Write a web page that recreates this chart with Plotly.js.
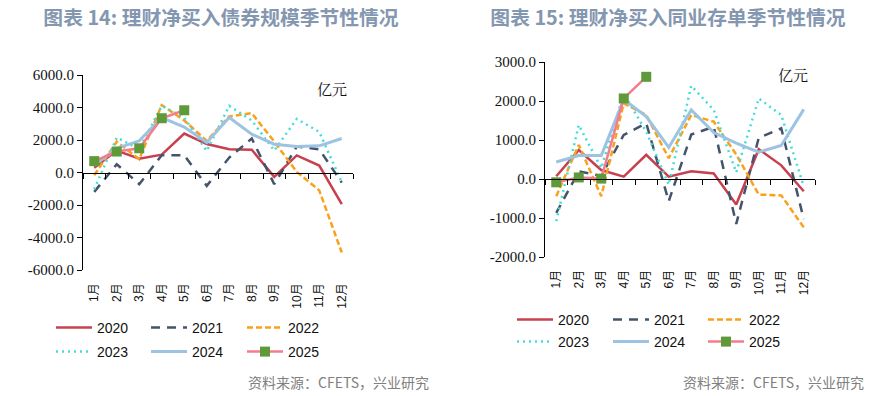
<!DOCTYPE html>
<html><head><meta charset="utf-8">
<script src="https://cdn.plot.ly/plotly-3.0.1.min.js"></script>
<style>
html,body{margin:0;padding:0;background:#fff;}
#wrap{display:flex;width:892px;height:396px;}
.c{width:446px;height:396px;}
</style></head><body>
<div id="wrap"><div id="c1" class="c"></div><div id="c2" class="c"></div></div>
<script>
// ---------- data ----------
const months = ['1月','2月','3月','4月','5月','6月','7月','8月','9月','10月','11月','12月'];
const years = ['2020','2021','2022','2023','2024','2025'];

// 图表14: 理财净买入债券规模 (亿元)
const bond2020 = [300, 1350, 850, 1100, 2400, 1750, 1430, 1400, -270, 1050, 430, -1950];
const bond2021 = [-1190, 510, -720, 1060, 1060, -820, 920, 2090, -720, 1600, 1430, -620];
const bond2022 = [-170, 1900, 820, 4150, 3200, 1950, 3450, 3650, 1900, 40, -1100, -4920];
const bond2023 = [-1030, 2150, 1450, 4100, 3380, 1330, 4100, 3200, 1350, 3300, 2500, -600];
const bond2024 = [450, 1480, 1950, 3380, 2800, 1850, 3380, 2360, 1740, 1600, 1640, 2090];
const bond2025 = [700, 1290, 1490, 3340, 3830];
const bondYTicks = [-6000, -4000, -2000, 0, 2000, 4000, 6000];

// 图表15: 理财净买入同业存单 (亿元)
const cd2020 = [70, 740, 230, 60, 620, 60, 200, 140, -655, 765, 350, -315];
const cd2021 = [-870, 195, 80, 1130, 1430, -570, 1140, 1340, -1150, 1055, 1300, -1030];
const cd2022 = [-440, 875, -440, 1940, 1640, 535, 1640, 1470, 630, -400, -420, -1240];
const cd2023 = [-1080, 1385, 280, 2190, 1215, -145, 2390, 1770, 170, 2065, 1640, -190];
const cd2024 = [435, 600, 600, 2040, 1600, 810, 1770, 1190, 920, 690, 860, 1785];
const cd2025 = [-85, 40, 10, 2065, 2620];
const cdYTicks = [-2000, -1000, 0, 1000, 2000, 3000];

// ---------- styling ----------
const W = 446, H = 396;
const styles = [
  {color:'#C8404F', dash:'solid', width:2.5},
  {color:'#44546A', dash:'9px,7px', width:2.5},
  {color:'#F9A11B', dash:'6px,3px', width:2.5},
  {color:'#45DCD6', dash:'2px,4px', width:2.5},
  {color:'#9DC3E3', dash:'solid', width:3},
  {color:'#F47C8C', dash:'solid', width:2.5}
];
const legendIds = ['legend','legend2','legend3','legend4','legend5','legend6'];

function build(divId, series, yTicks, cfg) {
  const m = cfg.margin;
  const pw = W - m.l - m.r, ph = H - m.t - m.b;
  const px2x = px => (px - m.l) / pw;
  const px2y = py => (H - m.b - py) / ph;
  const yMin = yTicks[0], yMax = yTicks[yTicks.length - 1];
  const zeroPos = (0 - yMin) / (yMax - yMin);

  const traces = series.map((ys, i) => {
    const t = {
      type:'scatter', x: months.slice(0, ys.length), y: ys, name: years[i],
      mode: i === 5 ? 'lines+markers' : 'lines',
      line: {color: styles[i].color, dash: styles[i].dash, width: styles[i].width},
      legend: legendIds[i],
      hoverinfo:'x+y+name'
    };
    if (i === 5) t.marker = {symbol:'square', size:10, color:'#5E9A3A'};
    return t;
  });

  const legendBase = {
    orientation:'h', xref:'container', yref:'container',
    xanchor:'left', yanchor:'middle', itemwidth:36,
    font:{family:'Liberation Sans, Arial, sans-serif', size:14, color:'#111'},
    bgcolor:'rgba(0,0,0,0)', itemclick:false, itemdoubleclick:false
  };

  const layout = {
    width: W, height: H, margin: m,
    paper_bgcolor:'#fff', plot_bgcolor:'rgba(0,0,0,0)',
    showlegend:true,
    title:{text: cfg.title, xref:'container', yref:'container',
           x: cfg.titleX / W, xanchor:'center', y: 1 - 18 / H, yanchor:'middle',
           font:{family:'Noto Sans CJK SC, sans-serif', size:19.8, color:'#8497B0', weight:'bold'}},
    xaxis:{type:'category', categoryarray: months, range:[-0.5, 11.5],
           anchor:'free', position: zeroPos,
           showline:true, linecolor:'#000', linewidth:1,
           ticks:'outside', ticklen:5, tickcolor:'#000', tickwidth:1,
           tickson:'boundaries', tickangle:-90,
           ticklabelstandoff: Math.round(zeroPos * ph + 7),
           tickfont:{family:'Liberation Sans, Noto Sans CJK SC, sans-serif', size:12, color:'#111'},
           showgrid:false, zeroline:false, fixedrange:true},
    yaxis:{range:[yMin, yMax], tickvals: yTicks, ticktext: yTicks.map(v => v.toFixed(1)),
           showline:true, linecolor:'#000', linewidth:1,
           ticks:'outside', ticklen:5, tickcolor:'#000',
           tickfont:{family:'Liberation Serif, Times New Roman, serif', size:15, color:'#111'},
           showgrid:false, zeroline:false, fixedrange:true},
    annotations:[
      {text:'亿元', xref:'paper', yref:'paper', x: px2x(cfg.unit[0]), y: px2y(cfg.unit[1]),
       xanchor:'center', yanchor:'middle', showarrow:false,
       font:{family:'Noto Serif CJK SC, Noto Sans CJK SC, serif', size:15, color:'#111'}},
      {text:'资料来源：CFETS，兴业研究', xref:'paper', yref:'paper',
       x: px2x(cfg.srcRight), y: px2y(382), xanchor:'right', yanchor:'middle', showarrow:false,
       font:{family:'Noto Sans CJK SC, sans-serif', size:14, color:'#808080'}}
    ]
  };
  legendIds.forEach((id, i) => {
    const col = i % 3, row = Math.floor(i / 3);
    layout[id] = Object.assign({}, legendBase, {
      x: (cfg.legCols[col] - 5) / W,
      y: 1 - cfg.legRows[row] / H
    });
  });
  Plotly.newPlot(divId, traces, layout, {staticPlot:true, displayModeBar:false});
}

build('c1', [bond2020, bond2021, bond2022, bond2023, bond2024, bond2025], bondYTicks, {
  margin:{l:83, r:93, t:75, b:126, pad:0},
  title:'图表 14: 理财净买入债券规模季节性情况', titleX:221,
  unit:[332, 88], srcRight:431, legCols:[56, 151, 247], legRows:[328, 352]
});
build('c2', [cd2020, cd2021, cd2022, cd2023, cd2024, cd2025], cdYTicks, {
  margin:{l:99, r:77, t:62, b:139, pad:0},
  title:'图表 15: 理财净买入同业存单季节性情况', titleX:222,
  unit:[347, 74], srcRight:420, legCols:[71, 167, 262], legRows:[320, 342]
});
</script>
</body></html>
